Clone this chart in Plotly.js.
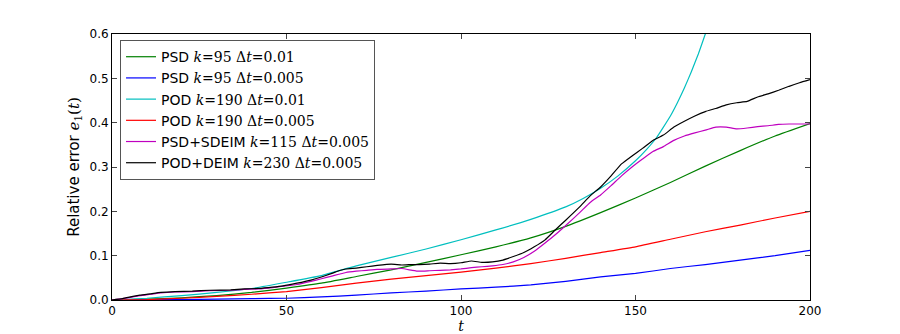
<!DOCTYPE html>
<html>
<head>
<meta charset="utf-8">
<script src="https://cdn.plot.ly/plotly-3.0.1.min.js"></script>
<style>html,body{margin:0;padding:0;background:#fff;}</style>
</head>
<body>
<div id="chart" style="width:900px;height:334px;"></div>
<script>
    // smooth curves
    const tSmooth = [0, 10, 20, 30, 40, 50, 60, 70, 80, 90, 100, 110, 120, 130, 140, 150, 160, 170, 180, 190, 200];
    const psd95_001  = [0, 0.002, 0.005, 0.010, 0.017, 0.027, 0.038, 0.053, 0.068, 0.085, 0.102, 0.120, 0.140, 0.166, 0.197, 0.230, 0.265, 0.302, 0.337, 0.370, 0.398];
    const psd95_0005 = [0, 0.0005, 0.001, 0.002, 0.003, 0.004, 0.007, 0.011, 0.016, 0.020, 0.025, 0.029, 0.034, 0.042, 0.052, 0.060, 0.071, 0.080, 0.090, 0.100, 0.112];
    const pod190_0005 = [0, 0.001, 0.004, 0.008, 0.013, 0.019, 0.028, 0.038, 0.047, 0.055, 0.063, 0.072, 0.082, 0.094, 0.107, 0.120, 0.137, 0.154, 0.169, 0.185, 0.200];

    const tCyan = [0, 10, 20, 30, 40, 50, 60, 70, 80, 90, 100, 110, 120, 130, 135, 140, 145, 150, 153, 156, 158, 160, 162, 164, 166, 168, 170, 172];
    const pod190_001 = [0, 0.004, 0.010, 0.017, 0.026, 0.040, 0.055, 0.077, 0.096, 0.115, 0.136, 0.158, 0.182, 0.210, 0.229, 0.252, 0.280, 0.314, 0.338, 0.366, 0.390, 0.415, 0.445, 0.478, 0.515, 0.555, 0.600, 0.650];

    // noisy curves
    const tNoisy = [0, 3, 6, 8, 11, 14, 18, 23, 28, 34, 38, 42, 46, 49, 53, 57, 60, 63, 65, 67, 70, 73, 76, 80, 83, 86, 88, 91, 94, 97, 100, 103, 106, 109, 112, 115, 118, 121, 124, 127, 130, 134, 137, 140, 143, 146, 149, 152, 155, 158, 161, 164, 167, 170, 173, 176, 179, 182, 185, 188, 191, 194, 197, 200];
    const podDeim = [0, 0.003, 0.008, 0.011, 0.014, 0.017, 0.019, 0.020, 0.022, 0.023, 0.025, 0.026, 0.029, 0.032, 0.038, 0.045, 0.052, 0.060, 0.066, 0.070, 0.072, 0.075, 0.078, 0.081, 0.079, 0.080, 0.080, 0.081, 0.083, 0.082, 0.084, 0.088, 0.085, 0.086, 0.090, 0.098, 0.107, 0.120, 0.135, 0.158, 0.180, 0.210, 0.235, 0.255, 0.280, 0.307, 0.325, 0.342, 0.360, 0.372, 0.390, 0.403, 0.415, 0.425, 0.432, 0.440, 0.445, 0.448, 0.458, 0.465, 0.473, 0.482, 0.490, 0.497];
    const psdSdeim = [0, 0.003, 0.007, 0.010, 0.013, 0.016, 0.018, 0.019, 0.021, 0.022, 0.024, 0.025, 0.028, 0.031, 0.035, 0.042, 0.048, 0.054, 0.058, 0.062, 0.065, 0.067, 0.069, 0.070, 0.071, 0.067, 0.065, 0.066, 0.067, 0.068, 0.070, 0.073, 0.075, 0.077, 0.080, 0.086, 0.096, 0.110, 0.128, 0.147, 0.168, 0.197, 0.220, 0.237, 0.258, 0.280, 0.300, 0.318, 0.335, 0.346, 0.360, 0.370, 0.377, 0.383, 0.390, 0.390, 0.386, 0.388, 0.391, 0.393, 0.396, 0.397, 0.397, 0.397];

    const names = ['PSD', 'PSD', 'POD', 'POD', 'PSD+SDEIM', 'POD+DEIM'];
    const kVals = [95, 95, 190, 190, 115, 230];
    const dtVals = ['0.01', '0.005', '0.01', '0.005', '0.005', '0.005'];
    const colors = ['#008000', '#0000ff', '#00bfbf', '#ff0000', '#bf00bf', '#000000'];

    const serif = 'font-family:\'DejaVu Serif\',serif;';
    function label(i) {
        return names[i] + ' <span style="' + serif + '"><i>k</i>=' + kVals[i] +
            ' \u0394<i>t</i>=' + dtVals[i] + '</span>';
    }

    const xs = [tSmooth, tSmooth, tCyan, tSmooth, tNoisy, tNoisy];
    const ys = [psd95_001, psd95_0005, pod190_001, pod190_0005, psdSdeim, podDeim];

    const traces = xs.map((x, i) => ({
        x: x,
        y: ys[i],
        mode: 'lines',
        type: 'scatter',
        name: label(i),
        line: { color: colors[i], width: 1.2, shape: 'spline', smoothing: 0.4 }
    }));

    const layout = {
        width: 900,
        height: 334,
        margin: { l: 112, r: 90, t: 34, b: 34 },
        paper_bgcolor: '#ffffff',
        plot_bgcolor: '#ffffff',
        font: { family: 'DejaVu Sans', size: 12, color: '#000' },
        xaxis: {
            range: [0, 200],
            tickvals: [0, 50, 100, 150, 200],
            ticks: 'inside',
            ticklen: 5,
            mirror: 'ticks',
            showline: true,
            linecolor: '#000',
            linewidth: 1,
            showgrid: false,
            zeroline: false,
            title: { text: '<span style="' + serif + '"><i>t</i></span>', font: { size: 14 }, standoff: 5 }
        },
        yaxis: {
            range: [0, 0.6],
            tickvals: [0, 0.1, 0.2, 0.3, 0.4, 0.5, 0.6],
            tickformat: '.1f',
            ticks: 'inside',
            ticklen: 5,
            mirror: 'ticks',
            showline: true,
            linecolor: '#000',
            linewidth: 1,
            showgrid: false,
            zeroline: false,
            title: {
                text: 'Relative error <span style="' + serif + '"><i>e</i><sub>1</sub>(<i>t</i>)</span>',
                font: { size: 15 },
                standoff: 6
            }
        },
        showlegend: true,
        legend: {
            x: 0.0115,
            y: 0.977,
            xanchor: 'left',
            yanchor: 'top',
            bgcolor: '#ffffff',
            bordercolor: '#555',
            borderwidth: 1,
            font: { family: 'DejaVu Sans', size: 14 },
            tracegroupgap: 0,
            itemwidth: 30
        }
    };

    Plotly.newPlot('chart', traces, layout, { displayModeBar: false, staticPlot: true });
</script>
</body>
</html>
